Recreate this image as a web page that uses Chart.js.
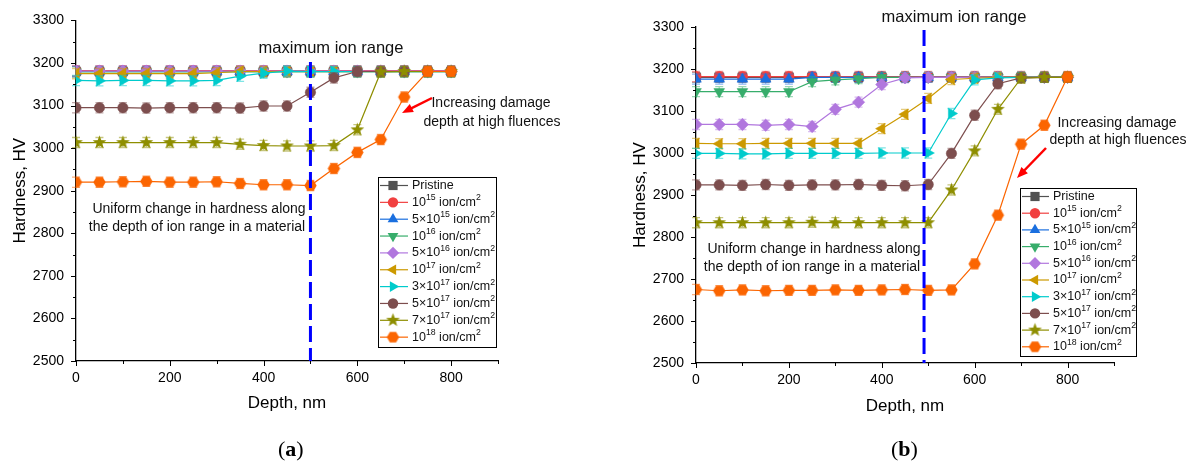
<!DOCTYPE html>
<html><head><meta charset="utf-8">
<script src="https://cdn.jsdelivr.net/npm/chart.js@4.4.1/dist/chart.umd.min.js"></script>
<style>
html,body{margin:0;padding:0;background:#fff;width:1194px;height:463px;overflow:hidden;}
#ca{position:absolute;left:0;top:0;}
#cb{position:absolute;left:600px;top:0;}
.lab{position:absolute;top:436px;font-family:"Liberation Serif","DejaVu Serif",serif;font-size:22px;color:#000;}
</style></head><body>
<canvas id="ca" width="600" height="463"></canvas>
<canvas id="cb" width="594" height="463"></canvas>
<div class="lab" style="left:278px">(<b>a</b>)</div>
<div class="lab" style="left:891px">(<b>b</b>)</div>
<script>
// ---------------- data ----------------
const depth = [0,50,100,150,200,250,300,350,400,450,500,550,600,650,700,750,800];
const xTicks = [0,200,400,600,800];
const yTicks = [2500,2600,2700,2800,2900,3000,3100,3200,3300];
const seriesLabels = ['Pristine','10^15 ion/cm^2','5×10^15 ion/cm^2','10^16 ion/cm^2','5×10^16 ion/cm^2','10^17 ion/cm^2','3×10^17 ion/cm^2','5×10^17 ion/cm^2','7×10^17 ion/cm^2','10^18 ion/cm^2'];
const errHV = 12;

// panel (a)
const aPristine = [3180,3180,3180,3180,3180,3180,3180,3180,3180,3180,3180,3180,3180,3180,3180,3180,3180];
const a1e15 = [3182,3182,3182,3182,3182,3182,3182,3182,3182,3182,3182,3182,3182,3182,3182,3182,3182];
const a5e15 = [3180,3180,3180,3180,3180,3180,3180,3180,3180,3180,3180,3180,3180,3180,3180,3180,3180];
const a1e16 = [3179,3179,3179,3179,3179,3179,3179,3179,3179,3179,3179,3179,3179,3179,3179,3179,3179];
const a5e16 = [3181,3181,3181,3181,3181,3181,3181,3181,3181,3181,3181,3181,3181,3181,3181,3181,3181];
const a1e17 = [3175,3175,3175,3175,3175,3175,3177,3180,3180,3180,3180,3180,3180,3180,3180,3180,3180];
const a3e17 = [3159,3158,3159,3159,3158,3158,3159,3169,3176,3181,3180,3180,3180,3180,3180,3180,3180];
const a5e17 = [3095,3095,3095,3094,3095,3095,3095,3094,3099,3099,3131,3165,3180,3180,3180,3180,3180];
const a7e17 = [3013,3013,3013,3013,3013,3013,3013,3009,3006,3005,3005,3006,3043,3179,3180,3180,3180];
const a1e18 = [2920,2920,2921,2922,2920,2920,2921,2917,2914,2914,2912,2952,2990,3020,3120,3180,3180];

// panel (b)
const bPristine = [3180,3180,3180,3180,3180,3180,3180,3180,3180,3180,3180,3180,3180,3180,3180,3180,3180];
const b1e15 = [3182,3182,3182,3182,3182,3182,3182,3182,3182,3182,3182,3182,3182,3182,3182,3182,3182];
const b5e15 = [3176,3176,3176,3176,3176,3180,3180,3180,3180,3180,3180,3180,3180,3180,3180,3180,3180];
const b1e16 = [3146,3146,3146,3146,3146,3170,3174,3177,3180,3180,3180,3180,3180,3180,3180,3180,3180];
const b5e16 = [3068,3068,3068,3066,3068,3063,3104,3121,3163,3179,3180,3180,3180,3180,3180,3180,3180];
const b1e17 = [3023,3022,3022,3023,3023,3023,3023,3023,3058,3092,3130,3175,3178,3180,3180,3180,3180];
const b3e17 = [2999,2999,2998,2998,2999,2999,2999,2999,3000,3000,3000,3094,3174,3179,3180,3180,3180];
const b5e17 = [2924,2924,2923,2925,2923,2924,2924,2925,2923,2922,2925,2999,3090,3165,3179,3180,3180];
const b7e17 = [2834,2834,2834,2834,2834,2835,2834,2834,2834,2834,2834,2912,3005,3104,3178,3180,3180];
const b1e18 = [2675,2672,2674,2672,2673,2673,2674,2673,2674,2675,2673,2674,2736,2852,3021,3066,3181];

// ---------------- styling ----------------
const FONT = '"Liberation Sans", Arial, sans-serif';
const colors = ['#515151','#F14040','#1A6FDF','#37AD6B','#B177DE','#CC9900','#00CBCC','#7D4E4E','#8E8E00','#FB6501'];

function polyCanvas(color, n, rOut, rIn, rot) {
  const s = Math.ceil(rOut*2)+2, c = document.createElement('canvas');
  c.width = s; c.height = s;
  const g = c.getContext('2d'); g.fillStyle = color;
  g.beginPath();
  const pts = rIn ? n*2 : n;
  for (let i=0;i<pts;i++){
    const r = rIn ? (i%2? rIn : rOut) : rOut;
    const a = rot + i*2*Math.PI/pts;
    const x = s/2 + r*Math.sin(a), y = s/2 - r*Math.cos(a);
    i? g.lineTo(x,y) : g.moveTo(x,y);
  }
  g.closePath(); g.fill();
  return c;
}
const starImg = polyCanvas(colors[8], 5, 7.2, 3.0, 0);
const hexImg = polyCanvas(colors[9], 6, 6.2, 0, Math.PI/6);

const markers = [
  {style:'rect', r:6.5, rot:0},
  {style:'circle', r:5.2, rot:0},
  {style:'triangle', r:6.2, rot:0},
  {style:'triangle', r:6.2, rot:180},
  {style:'rectRot', r:6.2, rot:0},
  {style:'triangle', r:6.2, rot:270},
  {style:'triangle', r:6.2, rot:90},
  {style:'circle', r:5.2, rot:0},
  {style:starImg, r:6, rot:0},
  {style:hexImg, r:6, rot:0}
];

function hexA(c, a){const n=parseInt(c.slice(1),16);return `rgba(${n>>16&255},${n>>8&255},${n&255},${a})`;}

function drawMarker(ctx, m, x, y, color){
  ctx.save(); ctx.fillStyle = color; ctx.strokeStyle = color; ctx.lineWidth = 1;
  const r = m.r, st = m.style;
  if (typeof st !== 'string') { ctx.drawImage(st, x - st.width/2, y - st.height/2); ctx.restore(); return; }
  ctx.beginPath();
  if (st === 'circle') ctx.arc(x,y,r,0,Math.PI*2);
  else if (st === 'rect') { const h=r*Math.SQRT1_2; ctx.rect(x-h,y-h,2*h,2*h); }
  else if (st === 'rectRot') { ctx.moveTo(x,y-r);ctx.lineTo(x+r,y);ctx.lineTo(x,y+r);ctx.lineTo(x-r,y);ctx.closePath(); }
  else if (st === 'triangle') { let a=m.rot*Math.PI/180; ctx.moveTo(x+Math.sin(a)*r,y-Math.cos(a)*r); a+=2*Math.PI/3; ctx.lineTo(x+Math.sin(a)*r,y-Math.cos(a)*r); a+=2*Math.PI/3; ctx.lineTo(x+Math.sin(a)*r,y-Math.cos(a)*r); ctx.closePath(); }
  ctx.fill(); ctx.restore();
}

function drawRich(ctx, text, x, y, size, align){
  const parts = []; const re = /\^(\d+)/g; let last = 0, m;
  while ((m = re.exec(text))) { parts.push([text.slice(last, m.index), false]); parts.push([m[1], true]); last = re.lastIndex; }
  parts.push([text.slice(last), false]);
  const supSize = size*0.7;
  let w = 0;
  parts.forEach(p => { ctx.font = `${p[1]?supSize:size}px ${FONT}`; w += ctx.measureText(p[0]).width; });
  let cx = align === 'center' ? x - w/2 : x;
  ctx.textAlign = 'left'; ctx.textBaseline = 'middle';
  parts.forEach(p => {
    ctx.font = `${p[1]?supSize:size}px ${FONT}`;
    ctx.fillText(p[0], cx, p[1] ? y - size*0.35 : y);
    cx += ctx.measureText(p[0]).width;
  });
}

const originPlugin = {
  id: 'origin',
  beforeDatasetDraw(chart, args) {
    const ds = chart.data.datasets[args.index];
    const ctx = chart.ctx, xs = chart.scales.x, ys = chart.scales.y;
    ctx.save(); ctx.strokeStyle = hexA(ds.baseColor, 0.5); ctx.lineWidth = 1.3;
    ds.data.forEach(p => {
      const px = xs.getPixelForValue(p.x);
      const t = ys.getPixelForValue(p.y + errHV), b = ys.getPixelForValue(p.y - errHV);
      ctx.beginPath();
      ctx.moveTo(px, t); ctx.lineTo(px, b);
      ctx.moveTo(px-4, t); ctx.lineTo(px+4, t);
      ctx.moveTo(px-4, b); ctx.lineTo(px+4, b);
      ctx.stroke();
    });
    ctx.restore();
  },
  afterDraw(chart, args, o) {
    const ctx = chart.ctx, xs = chart.scales.x, ys = chart.scales.y, ca = chart.chartArea;
    ctx.save();
    ctx.strokeStyle = '#000'; ctx.lineWidth = 1;
    ctx.beginPath();
    for (let v = 2500; v <= 3300; v += 50) {
      const y = Math.round(ys.getPixelForValue(v)) + 0.5, len = (v % 100 === 0) ? 5 : 3;
      ctx.moveTo(ca.left, y); ctx.lineTo(ca.left - len, y);
    }
    for (let v = 0; v <= 900; v += 100) {
      const x = Math.round(xs.getPixelForValue(v)) + 0.5, len = (v % 200 === 0 && v <= 800) ? 5 : 3;
      ctx.moveTo(x, ca.bottom); ctx.lineTo(x, ca.bottom + len);
    }
    ctx.stroke();
    ctx.strokeStyle = '#0000FF'; ctx.lineWidth = 3; ctx.setLineDash([16, 6]);
    const dx = xs.getPixelForValue(o.rangeX);
    ctx.beginPath(); ctx.moveTo(dx, o.rangeTop); ctx.lineTo(dx, ca.bottom); ctx.stroke();
    ctx.setLineDash([]);
    ctx.fillStyle = '#111';
    o.texts.forEach(t => drawRich(ctx, t.text, t.x, t.y, t.size, 'center'));
    const [x1, y1, x2, y2] = o.arrow;
    const ang = Math.atan2(y2 - y1, x2 - x1);
    ctx.strokeStyle = '#FF0000'; ctx.fillStyle = '#FF0000'; ctx.lineWidth = 2.5;
    ctx.beginPath(); ctx.moveTo(x1, y1); ctx.lineTo(x2 - 8*Math.cos(ang), y2 - 8*Math.sin(ang)); ctx.stroke();
    ctx.beginPath(); ctx.moveTo(x2, y2);
    ctx.lineTo(x2 - 11*Math.cos(ang) + 4.5*Math.sin(ang), y2 - 11*Math.sin(ang) - 4.5*Math.cos(ang));
    ctx.lineTo(x2 - 11*Math.cos(ang) - 4.5*Math.sin(ang), y2 - 11*Math.sin(ang) + 4.5*Math.cos(ang));
    ctx.closePath(); ctx.fill();
    const L = o.legend;
    ctx.fillStyle = '#fff'; ctx.fillRect(L.x, L.y, L.w, L.h);
    ctx.strokeStyle = '#000'; ctx.lineWidth = 1; ctx.strokeRect(L.x + 0.5, L.y + 0.5, L.w, L.h);
    seriesLabels.forEach((lab, i) => {
      const cy = L.y + L.first + i * L.row;
      ctx.strokeStyle = colors[i]; ctx.lineWidth = 1.2;
      ctx.beginPath(); ctx.moveTo(L.x + L.l0, cy); ctx.lineTo(L.x + L.l1, cy); ctx.stroke();
      drawMarker(ctx, markers[i], L.x + L.mx, cy, colors[i]);
      ctx.fillStyle = '#111';
      drawRich(ctx, lab, L.x + L.tx, cy, 12.5, 'left');
    });
    ctx.restore();
  }
};

function buildDatasets(arrs) {
  const n = arrs.length;
  return arrs.map((vals, i) => ({
    label: seriesLabels[i],
    data: depth.map((d, k) => ({x: d, y: vals[k]})),
    baseColor: colors[i],
    borderColor: colors[i], backgroundColor: colors[i],
    borderWidth: 1.2,
    pointStyle: markers[i].style, pointRadius: markers[i].r, pointRotation: markers[i].rot,
    pointBorderWidth: 0.5, pointBorderColor: colors[i], pointBackgroundColor: colors[i],
    order: n - i
  }));
}

function makeChart(id, arrs, cfg) {
  return new Chart(document.getElementById(id), {
    type: 'line',
    data: {datasets: buildDatasets(arrs)},
    options: {
      responsive: false, animation: false, events: [],
      layout: {padding: {left: 0, top: cfg.padTop, right: cfg.padRight, bottom: 0}},
      plugins: {legend: {display: false}, tooltip: {enabled: false}, origin: cfg},
      scales: {
        x: {
          type: 'linear', min: 0, max: 900,
          afterFit(s) { s.height = cfg.xH; },
          afterBuildTicks(s) { s.ticks = xTicks.map(v => ({value: v})); },
          grid: {drawOnChartArea: false, drawTicks: false},
          border: {color: '#000', width: 1.3},
          ticks: {padding: 9, color: '#000', font: {family: FONT, size: 14}, autoSkip: false, maxRotation: 0, callback: v => String(v)},
          title: {display: true, text: 'Depth, nm', color: '#000', font: {family: FONT, size: 17}, padding: {top: 0, bottom: cfg.xTitlePad}}
        },
        y: {
          type: 'linear', min: 2500, max: 3300,
          afterFit(s) { s.width = cfg.yW; },
          afterBuildTicks(s) { s.ticks = yTicks.map(v => ({value: v})); },
          grid: {drawOnChartArea: false, drawTicks: false},
          border: {color: '#000', width: 1.3},
          ticks: {padding: 12, color: '#000', font: {family: FONT, size: 14}, autoSkip: false, callback: v => String(v)},
          title: {display: true, text: 'Hardness, HV', color: '#000', font: {family: FONT, size: 17}, padding: {top: cfg.yTitlePad, bottom: 0}}
        }
      }
    },
    plugins: [originPlugin]
  });
}

makeChart('ca', [aPristine,a1e15,a5e15,a1e16,a5e16,a1e17,a3e17,a5e17,a7e17,a1e18], {
  padTop: 20, padRight: 102, xH: 102, yW: 76, xTitlePad: 49, yTitlePad: 10,
  rangeX: 500, rangeTop: 62,
  texts: [
    {text: 'maximum ion range', x: 331, y: 48, size: 16.5},
    {text: 'Uniform change in hardness along', x: 199, y: 209, size: 14},
    {text: 'the depth of ion range in a material', x: 197, y: 227, size: 14},
    {text: 'Increasing damage', x: 491, y: 103, size: 14},
    {text: 'depth at high fluences', x: 492, y: 122, size: 14}
  ],
  arrow: [432, 98, 402, 113],
  legend: {x: 378, y: 177, w: 118, h: 170, first: 8.5, row: 16.85, l0: 2, l1: 30, mx: 15, tx: 34}
});

makeChart('cb', [bPristine,b1e15,b5e15,b1e16,b5e16,b1e17,b3e17,b5e17,b7e17,b1e18], {
  padTop: 27, padRight: 80, xH: 100, yW: 96, xTitlePad: 46, yTitlePad: 30,
  rangeX: 491, rangeTop: 30,
  texts: [
    {text: 'maximum ion range', x: 354, y: 17, size: 16.5},
    {text: 'Uniform change in hardness along', x: 214, y: 249, size: 14},
    {text: 'the depth of ion range in a material', x: 212, y: 267, size: 14},
    {text: 'Increasing damage', x: 517, y: 123, size: 14},
    {text: 'depth at high fluences', x: 518, y: 140, size: 14}
  ],
  arrow: [446, 148, 417, 178],
  legend: {x: 420, y: 188, w: 116, h: 168, first: 8.5, row: 16.7, l0: 2, l1: 29, mx: 15, tx: 33}
});
</script>
</body></html>
